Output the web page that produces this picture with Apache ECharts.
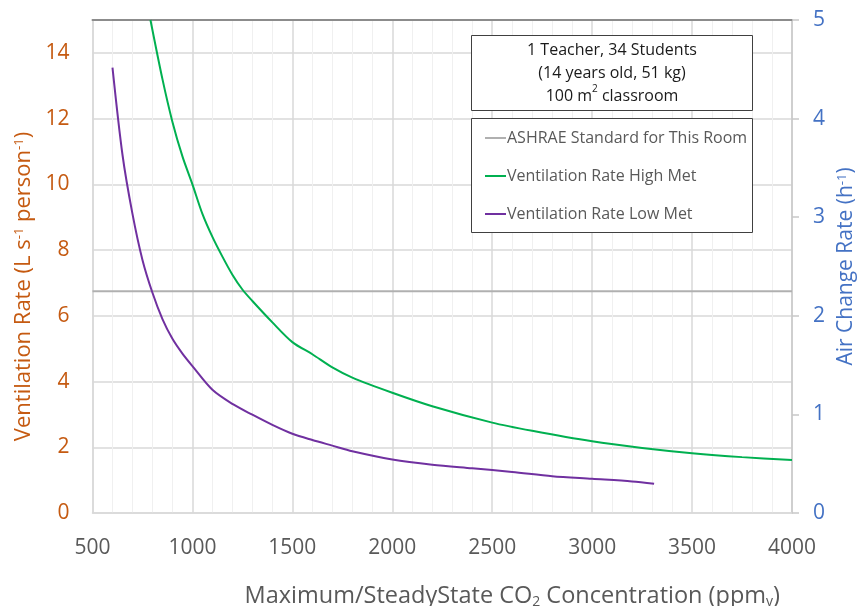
<!DOCTYPE html>
<html>
<head>
<meta charset="utf-8">
<script src="https://cdn.jsdelivr.net/npm/echarts/dist/echarts.min.js"></script>
<style>
	html, body { margin: 0; padding: 0; background: #fff; }
	#chart { width: 859px; height: 606px; }
</style>
</head>
<body>
<div id="chart"></div>
<script>
// CO2 (ppm) vs ventilation rate (L/s/person)
const co2High = [790, 850, 900, 950, 1000, 1050, 1100, 1150, 1200, 1250, 1300, 1400, 1500, 1600, 1700, 1800, 2000, 2200, 2500, 2700, 3000, 3250, 3500, 3750, 4000];
const ventHigh = [15.0, 13.2, 11.9, 10.85, 10.0, 9.1, 8.4, 7.8, 7.25, 6.8, 6.45, 5.8, 5.2, 4.83, 4.43, 4.12, 3.66, 3.25, 2.75, 2.5, 2.18, 1.98, 1.82, 1.7, 1.61];

const co2Low = [600, 650, 700, 750, 800, 850, 900, 950, 1000, 1100, 1200, 1300, 1400, 1500, 1600, 1700, 1800, 2000, 2200, 2400, 2600, 2800, 3000, 3200, 3310];
const ventLow = [13.55, 10.9, 9.1, 7.7, 6.7, 5.9, 5.3, 4.85, 4.47, 3.75, 3.32, 2.99, 2.68, 2.41, 2.22, 2.05, 1.88, 1.63, 1.47, 1.36, 1.25, 1.12, 1.04, 0.96, 0.89];

const co2Ashrae = [500, 4000];
const ventAshrae = [6.75, 6.75];

const xTicks = [500, 4000, 500];   // min, max, interval
const leftTicks = [0, 15, 2];
const rightTicks = [0, 5, 1];

const noteLines = ['1 Teacher, 34 Students', '(14 years old, 51 kg)', '100 m{sup|2} classroom'];

const FONT = 'Open Sans';
const ORANGE = '#C55A11';
const BLUE = '#4472C4';
const GREY_TXT = '#595959';

const pairs = (xs, ys) => xs.map((x, i) => [x, ys[i]]);

const chart = echarts.init(document.getElementById('chart'));

const option = {
	backgroundColor: '#ffffff',
	animation: false,
	grid: { left: 92.5, right: 67, top: 20, bottom: 93, outerBoundsMode: 'none' },
	legend: {
		orient: 'vertical',
		left: 480,
		top: 125,
		z: 6,
		icon: 'rect',
		itemWidth: 21,
		itemHeight: 2,
		itemGap: 22,
		data: ['ASHRAE Standard for This Room', 'Ventilation Rate High Met', 'Ventilation Rate Low Met'],
		textStyle: { color: GREY_TXT, fontSize: 16, fontFamily: FONT, padding: [0, 0, 0, -4] }
	},
	xAxis: [{
		type: 'value',
		min: xTicks[0],
		max: xTicks[1],
		interval: xTicks[2],
		name: 'Maximum/SteadyState CO{sub|2} Concentration (ppm{sub|v})',
		nameLocation: 'middle',
		nameGap: 70,
		nameTextStyle: {
			color: GREY_TXT, fontSize: 23.5, fontFamily: FONT, padding: [0, 0, 0, 140],
			rich: { sub: { fontSize: 14, verticalAlign: 'bottom', color: GREY_TXT, fontFamily: FONT, padding: [12, 0, 0, 0] } }
		},
		axisLine: { show: true, lineStyle: { color: '#d9d9d9', width: 1.5 } },
		axisTick: { show: false },
		axisLabel: { color: GREY_TXT, fontSize: 21, fontFamily: FONT, margin: 25, formatter: v => String(v) },
		splitLine: { show: true, lineStyle: { color: '#d9d9d9', width: 1.5 } },
		minorTick: { show: false, splitNumber: 5 },
		minorSplitLine: { show: true, lineStyle: { color: '#f0f0f0', width: 1 } }
	}, {
		type: 'value',
		position: 'top',
		min: xTicks[0],
		max: xTicks[1],
		axisLine: { show: true, onZero: false, lineStyle: { color: '#8c8c8c', width: 2 } },
		axisTick: { show: false },
		axisLabel: { show: false },
		splitLine: { show: false }
	}],
	yAxis: [{
		type: 'value',
		position: 'left',
		min: leftTicks[0],
		max: leftTicks[1],
		interval: leftTicks[2],
		name: 'Ventilation Rate (L s{sup|-1} person{sup|-1})',
		nameLocation: 'middle',
		nameGap: 58,
		nameRotate: 90,
		nameTextStyle: {
			color: ORANGE, fontSize: 22, fontFamily: FONT, padding: [0, 40, 0, 0],
			rich: { sup: { fontSize: 13, verticalAlign: 'top', color: ORANGE, fontFamily: FONT, padding: [0, 0, 8, 0] } }
		},
		axisLine: { show: true, lineStyle: { color: '#d9d9d9', width: 1.5 } },
		axisTick: { show: false },
		axisLabel: { color: ORANGE, fontSize: 21, fontFamily: FONT, margin: 23, showMaxLabel: false },
		splitLine: { show: true, lineStyle: { color: '#d9d9d9', width: 1.5 } }
	}, {
		type: 'value',
		position: 'right',
		min: rightTicks[0],
		max: rightTicks[1],
		interval: rightTicks[2],
		name: 'Air Change Rate (h{sup|-1})',
		nameLocation: 'middle',
		nameGap: 40,
		nameRotate: 90,
		nameTextStyle: {
			color: BLUE, fontSize: 21, fontFamily: FONT,
			rich: { sup: { fontSize: 13, verticalAlign: 'top', color: BLUE, fontFamily: FONT, padding: [0, 0, 8, 0] } }
		},
		axisLine: { show: true, lineStyle: { color: '#c8c8c8', width: 1.5 } },
		axisTick: { show: true, inside: false, length: 7, lineStyle: { color: '#c8c8c8', width: 1.5 } },
		axisLabel: { color: BLUE, fontSize: 21, fontFamily: FONT, margin: 21 },
		splitLine: { show: false }
	}],
	series: [{
		name: 'ASHRAE Standard for This Room',
		type: 'line',
		symbol: 'none',
		data: pairs(co2Ashrae, ventAshrae),
		lineStyle: { color: '#b0b0b0', width: 2 },
		itemStyle: { color: '#b0b0b0' },
		z: 3
	}, {
		name: 'Ventilation Rate High Met',
		type: 'line',
		symbol: 'none',
		smooth: 0.3,
		data: pairs(co2High, ventHigh),
		lineStyle: { color: '#00B050', width: 2 },
		itemStyle: { color: '#00B050' },
		z: 4
	}, {
		name: 'Ventilation Rate Low Met',
		type: 'line',
		symbol: 'none',
		smooth: 0.3,
		data: pairs(co2Low, ventLow),
		lineStyle: { color: '#7030A0', width: 2 },
		itemStyle: { color: '#7030A0' },
		z: 4
	}],
	graphic: [{
		type: 'rect',
		shape: { x: 471.5, y: 35.5, width: 281, height: 75 },
		style: { fill: '#ffffff', stroke: '#404040', lineWidth: 1 },
		z: 10
	}, {
		type: 'text',
		x: 612,
		y: 73,
		style: {
			text: noteLines.join('\n'),
			fill: '#1a1a1a',
			fontSize: 16,
			fontFamily: FONT,
			lineHeight: 23,
			align: 'center',
			verticalAlign: 'middle',
			rich: { sup: { fontSize: 10, verticalAlign: 'top', fill: '#1a1a1a', fontFamily: FONT, lineHeight: 23, padding: [0, 0, 6, 0] } }
		},
		z: 11
	}, {
		type: 'rect',
		shape: { x: 471.5, y: 118.5, width: 281, height: 114 },
		style: { fill: '#ffffff', stroke: '#404040', lineWidth: 1 },
		z: 5
	}]
};

chart.setOption(option);
</script>
</body>
</html>
